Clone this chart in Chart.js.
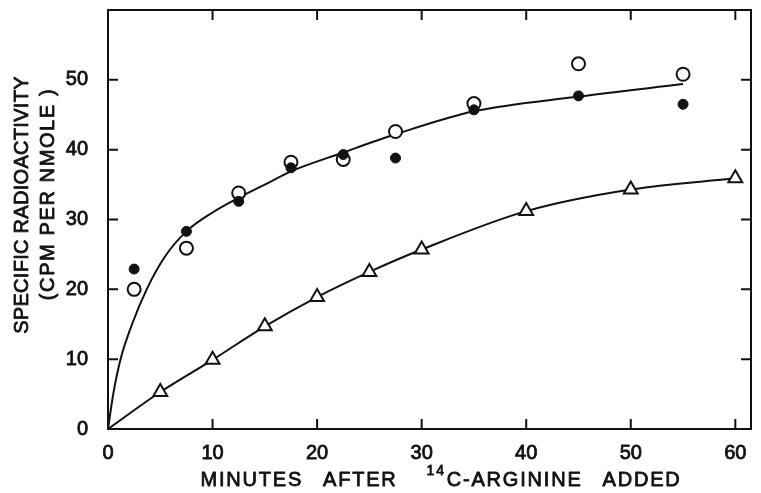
<!DOCTYPE html>
<html>
<head>
<meta charset="utf-8">
<script src="https://cdn.jsdelivr.net/npm/chart.js@4.4.1/dist/chart.umd.min.js"></script>
<style>
  html, body { margin: 0; padding: 0; background: #fff; }
  #wrap { width: 761px; height: 493px; }
</style>
</head>
<body>
<div id="wrap"><canvas id="chart" width="761" height="493"></canvas></div>
<script>
// sampling times (minutes) and specific radioactivity (cpm per nmole)
const circleTimes = [2.5, 7.5, 12.5, 17.5, 22.5, 27.5, 35, 45, 55];
const openValues = [20, 25.9, 33.8, 38.2, 38.6, 42.6, 46.6, 52.3, 50.8];
const filledValues = [22.9, 28.3, 32.6, 37.4, 39.3, 38.8, 45.7, 47.7, 46.5];

const triangleTimes = [5, 10, 15, 20, 25, 30, 40, 50, 60];
const triangleValues = [5.3, 9.9, 14.7, 18.9, 22.5, 25.7, 31.2, 34.3, 35.9];

// hand-drawn fitted curves
const upperCurveX = [0, 0.5, 1.2, 2.3, 3.7, 5.5, 7.5, 10, 12.5, 15, 17.5, 22.5, 27.5, 35, 45, 55];
const upperCurveY = [0, 5, 10, 15, 20, 24.8, 28.3, 31, 33.1, 35, 36.9, 39.6, 42.2, 45.5, 47.6, 49.4];
const lowerCurveX = [0, 5, 10, 15, 20, 25, 30, 40, 50, 60];
const lowerCurveY = [0, 5.3, 9.9, 14.7, 18.9, 22.5, 25.7, 31.2, 34.3, 35.9];

const xTickValues = [0, 10, 20, 30, 40, 50, 60];
const yTickValues = [0, 10, 20, 30, 40, 50];

const yTitleLines = ['SPECIFIC RADIOACTIVITY', '(CPM PER NMOLE )'];
const xTitleLead = ['MINUTES', 'AFTER'];
const xTitleSup = '14';
const xTitleTail = ['C-ARGININE', 'ADDED'];

const ink = '#111';
const fontFamily = "'Liberation Sans', Arial, sans-serif";
const textStroke = 0.8;

const pts = (xs, ys) => xs.map((x, i) => ({ x, y: ys[i] }));

function inkText(ctx, s, x, y) {
  ctx.fillText(s, x, y);
  ctx.strokeText(s, x, y);
}

const frame = {
  id: 'frame',
  afterDraw(chart) {
    const { ctx, chartArea: a, scales: { x, y } } = chart;
    const tl = 10;
    ctx.save();
    ctx.strokeStyle = ink;
    ctx.lineWidth = 2;
    ctx.strokeRect(a.left, a.top, a.right - a.left, a.bottom - a.top);
    ctx.beginPath();
    xTickValues.forEach(v => {
      if (v === 0) return;
      const px = x.getPixelForValue(v);
      ctx.moveTo(px, a.bottom); ctx.lineTo(px, a.bottom - tl);
      ctx.moveTo(px, a.top); ctx.lineTo(px, a.top + tl);
    });
    yTickValues.forEach(v => {
      if (v === 0) return;
      const py = y.getPixelForValue(v);
      ctx.moveTo(a.left, py); ctx.lineTo(a.left + tl, py);
      ctx.moveTo(a.right, py); ctx.lineTo(a.right - tl, py);
    });
    ctx.stroke();

    // y title, two rotated lines
    ctx.fillStyle = ink;
    ctx.lineWidth = textStroke;
    ctx.lineJoin = 'round';
    ctx.textAlign = 'center';
    ctx.textBaseline = 'alphabetic';
    ctx.font = '20px ' + fontFamily;
    ctx.save();
    ctx.translate(28, 205);
    ctx.rotate(-Math.PI / 2);
    ctx.letterSpacing = '0.3px';
    inkText(ctx, yTitleLines[0], 0, 0);
    ctx.restore();
    ctx.save();
    ctx.translate(53.5, 194);
    ctx.rotate(-Math.PI / 2);
    ctx.letterSpacing = '1.6px';
    inkText(ctx, yTitleLines[1], 0, 0);
    ctx.restore();

    // x title with superscript 14
    ctx.textAlign = 'left';
    ctx.letterSpacing = '1.8px';
    const big = '20px ' + fontFamily, small = '14px ' + fontFamily;
    const gap = 20, supGap = 29;
    const w = (s, f) => { ctx.font = f; return ctx.measureText(s).width; };
    const parts = [];
    xTitleLead.forEach((s, i) => parts.push({ s, f: big, dy: 0, after: i === xTitleLead.length - 1 ? supGap : gap }));
    parts.push({ s: xTitleSup, f: small, dy: -11, after: 1 });
    xTitleTail.forEach(s => parts.push({ s, f: big, dy: 0, after: gap }));
    parts[parts.length - 1].after = 0;
    let total = 0;
    parts.forEach(p => { p.w = w(p.s, p.f); total += p.w + p.after; });
    let cx = 441 - total / 2;
    parts.forEach(p => {
      ctx.font = p.f;
      inkText(ctx, p.s, cx, 486 + p.dy);
      cx += p.w + p.after;
    });
    ctx.restore();
  }
};

const tickStyle = (padding) => ({
  color: ink,
  padding,
  textStrokeColor: ink,
  textStrokeWidth: textStroke,
  font: { family: fontFamily, size: 20 }
});

new Chart(document.getElementById('chart'), {
  type: 'scatter',
  data: {
    datasets: [
      {
        label: 'filled',
        data: pts(circleTimes, filledValues),
        pointStyle: 'circle',
        pointRadius: 5,
        pointBackgroundColor: ink,
        pointBorderColor: ink,
        pointBorderWidth: 1,
      },
      {
        label: 'open',
        data: pts(circleTimes, openValues),
        pointStyle: 'circle',
        pointRadius: 6.5,
        pointBackgroundColor: '#fff',
        pointBorderColor: ink,
        pointBorderWidth: 2,
      },
      {
        label: 'triangles',
        data: pts(triangleTimes, triangleValues),
        pointStyle: 'triangle',
        pointRadius: 8,
        pointBackgroundColor: '#fff',
        pointBorderColor: ink,
        pointBorderWidth: 2,
      },
      {
        label: 'upper fit',
        type: 'line',
        data: pts(upperCurveX, upperCurveY),
        borderColor: ink,
        borderWidth: 2,
        pointRadius: 0,
        cubicInterpolationMode: 'monotone',
        fill: false,
      },
      {
        label: 'lower fit',
        type: 'line',
        data: pts(lowerCurveX, lowerCurveY),
        borderColor: ink,
        borderWidth: 2,
        pointRadius: 0,
        cubicInterpolationMode: 'monotone',
        fill: false,
      }
    ]
  },
  options: {
    responsive: false,
    animation: false,
    layout: { padding: { top: 10, right: 1, left: 0, bottom: 0 } },
    plugins: { legend: { display: false }, tooltip: { enabled: false } },
    scales: {
      x: {
        type: 'linear',
        min: 0,
        max: 61.5,
        afterFit: s => { s.height = 64; s.paddingLeft = 0; s.paddingRight = 0; },
        afterBuildTicks: s => { s.ticks = xTickValues.map(v => ({ value: v })); },
        grid: { display: false, drawTicks: false },
        border: { display: false },
        ticks: tickStyle(12)
      },
      y: {
        type: 'linear',
        min: 0,
        max: 60,
        afterFit: s => { s.width = 108; s.paddingTop = 0; s.paddingBottom = 0; },
        afterBuildTicks: s => { s.ticks = yTickValues.map(v => ({ value: v })); },
        grid: { display: false, drawTicks: false },
        border: { display: false },
        ticks: tickStyle(20)
      }
    }
  },
  plugins: [frame]
});
</script>
</body>
</html>
